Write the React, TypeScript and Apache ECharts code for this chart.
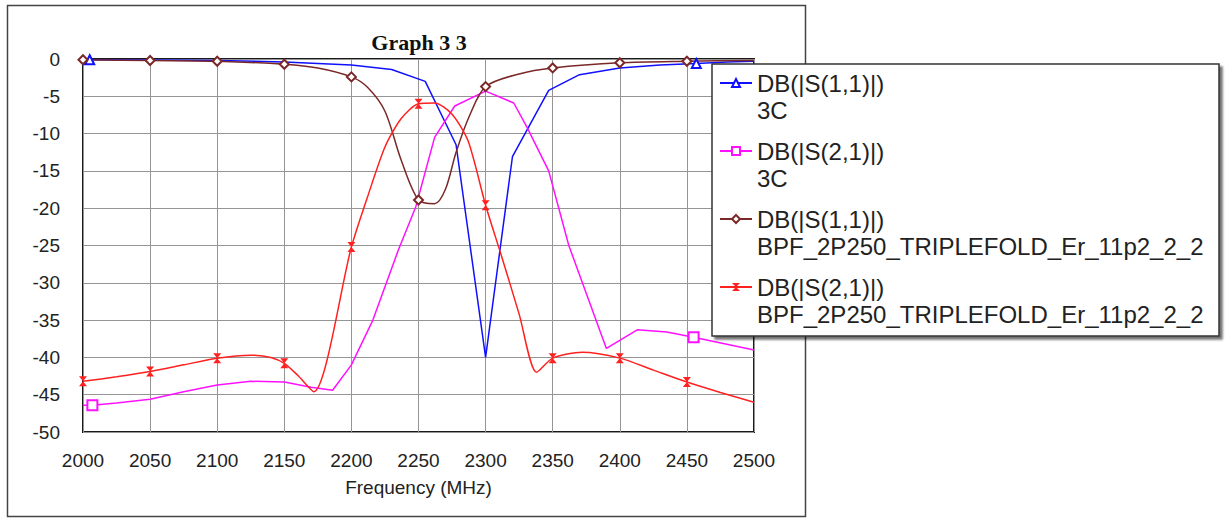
import React, { useEffect, useRef } from "react";
import * as echarts from "echarts";

const titleText = "Graph 3 3";
const xAxisName = "Frequency (MHz)";
const seriesNames = [
  "DB(|S(1,1)|)\n3C",
  "DB(|S(2,1)|)\n3C",
  "DB(|S(1,1)|)\nBPF_2P250_TRIPLEFOLD_Er_11p2_2_2",
  "DB(|S(2,1)|)\nBPF_2P250_TRIPLEFOLD_Er_11p2_2_2",
];

// S11 of "3C" (blue)
const s11aFreq = [2000, 2005, 2050, 2100, 2150, 2200, 2230, 2255, 2278, 2300, 2320, 2347, 2370, 2400, 2430, 2457, 2480, 2500];
const s11aDb = [-0.1, -0.1, -0.15, -0.2, -0.4, -0.8, -1.4, -3.0, -11.5, -40.0, -13.1, -4.2, -2.1, -1.2, -0.8, -0.6, -0.4, -0.3];
const s11aMarks = [2005, 2457];

// S21 of "3C" (magenta)
const s21aFreq = [2000, 2007, 2025, 2050, 2075, 2100, 2125, 2150, 2170, 2186, 2200, 2216, 2235, 2248, 2262, 2277, 2300, 2321, 2331, 2347, 2362, 2376, 2390, 2413, 2435, 2455, 2500];
const s21aDb = [-46.4, -46.4, -46.1, -45.6, -44.6, -43.7, -43.2, -43.3, -44.0, -44.4, -41.0, -35.0, -25.6, -19.8, -10.5, -6.3, -4.3, -5.9, -9.2, -15.0, -25.0, -31.9, -38.8, -36.3, -36.6, -37.3, -39.0];
const s21aMarks = [2007, 2455];

// S11 of BPF (brown)
const s11bFreq = [2000, 2050, 2100, 2150, 2175, 2200, 2212, 2225, 2237, 2250, 2262, 2270, 2278, 2288, 2300, 2325, 2350, 2400, 2450, 2500];
const s11bDb = [-0.1, -0.2, -0.3, -0.7, -1.2, -2.4, -3.8, -7.0, -13.5, -18.9, -19.4, -17.5, -12.5, -7.6, -3.7, -2.0, -1.2, -0.5, -0.3, -0.2];
const s11bMarks = [2000, 2050, 2100, 2150, 2200, 2250, 2300, 2350, 2400, 2450];

// S21 of BPF (red)
const s21bFreq = [2000, 2025, 2050, 2075, 2100, 2125, 2140, 2150, 2160, 2172, 2200, 2212, 2225, 2237, 2250, 2262, 2275, 2287, 2300, 2312, 2325, 2338, 2350, 2372, 2400, 2425, 2450, 2475, 2500];
const s21bDb = [-43.2, -42.6, -41.9, -41.0, -40.1, -39.7, -40.0, -40.8, -42.4, -44.6, -25.2, -18.5, -11.8, -8.0, -6.0, -5.9, -7.4, -11.0, -19.6, -26.5, -34.2, -42.0, -40.1, -39.3, -40.1, -41.7, -43.3, -44.7, -46.0];
const s21bMarks = [2000, 2050, 2100, 2150, 2200, 2250, 2300, 2350, 2400, 2450];

const xTicks = { min: 2000, max: 2500, step: 50 };
const yTicks = { min: -50, max: 0, step: 5 };

function toData(freq: number[], db: number[], marks: number[]) {
  return freq.map((f, i) =>
    marks.indexOf(f) >= 0 ? { value: [f, db[i]] } : { value: [f, db[i]], symbol: "none" }
  );
}

const hourglass = "path://M0,0L10,0L5,5L10,10L0,10L5,5Z";

export default function App() {
  const ref = useRef<HTMLDivElement>(null);
  useEffect(() => {
    if (!ref.current) return;
    const chart = echarts.init(ref.current, undefined, { renderer: "svg" });
    const font = "'Liberation Sans', Arial, sans-serif";
    const option: any = {
      animation: false,
      backgroundColor: "#ffffff",
      title: {
        text: titleText,
        left: 419,
        top: 31,
        padding: 0,
        textAlign: "center",
        textStyle: { fontFamily: "'Liberation Serif', 'Times New Roman', serif", fontWeight: "bold", fontSize: 22, color: "#111" },
      },
      grid: { left: 83, top: 59, right: 472, bottom: 87, show: true, borderColor: "#1a1a1a", borderWidth: 2, backgroundColor: "#fff" },
      xAxis: {
        type: "value",
        min: xTicks.min,
        max: xTicks.max,
        interval: xTicks.step,
        name: xAxisName,
        nameLocation: "middle",
        nameGap: 46,
        nameTextStyle: { fontFamily: font, fontSize: 19, color: "#222" },
        axisLine: { show: false },
        axisTick: { show: false },
        axisLabel: { fontFamily: font, fontSize: 19, color: "#222", margin: 19, formatter: (v: number) => String(v) },
        splitLine: { show: true, lineStyle: { color: "#959595", width: 1 } },
      },
      yAxis: {
        type: "value",
        min: yTicks.min,
        max: yTicks.max,
        interval: yTicks.step,
        axisLine: { show: false },
        axisTick: { show: false },
        axisLabel: { fontFamily: font, fontSize: 19, color: "#222", margin: 23 },
        splitLine: { show: true, lineStyle: { color: "#959595", width: 1 } },
      },
      legend: {
        orient: "vertical",
        left: 719,
        top: 42.5,
        padding: 0,
        itemWidth: 32,
        itemHeight: 10,
        itemGap: -13,
        selectedMode: false,
        z: 10,
        formatter: (name: string) => " \n" + name,
        textStyle: { fontFamily: font, fontSize: 24, lineHeight: 27, color: "#222" },
        data: seriesNames,
      },
      graphic: [
        {
          type: "rect",
          z: 0,
          shape: { x: 7.5, y: 5.5, width: 798, height: 511 },
          style: { fill: "none", stroke: "#444", lineWidth: 1.5 },
          silent: true,
        },
        {
          type: "rect",
          z: 8,
          shape: { x: 712, y: 64, width: 507, height: 272 },
          style: {
            fill: "#fff",
            stroke: "#333",
            lineWidth: 1.5,
            shadowColor: "rgba(0,0,0,0.55)",
            shadowOffsetX: 3,
            shadowOffsetY: 3,
            shadowBlur: 2,
          },
          silent: true,
        },
      ],
      series: [
        {
          name: seriesNames[0],
          type: "line",
          data: toData(s11aFreq, s11aDb, s11aMarks),
          symbol: "emptyTriangle",
          symbolSize: 9,
          showAllSymbol: true,
          lineStyle: { color: "#1010ff", width: 1.5 },
          itemStyle: { color: "#1010ff" },
          z: 3,
        },
        {
          name: seriesNames[1],
          type: "line",
          data: toData(s21aFreq, s21aDb, s21aMarks),
          symbol: "emptyRect",
          symbolSize: 10,
          showAllSymbol: true,
          lineStyle: { color: "#ff10ff", width: 1.5 },
          itemStyle: { color: "#ff10ff" },
          z: 3,
        },
        {
          name: seriesNames[2],
          type: "line",
          data: toData(s11bFreq, s11bDb, s11bMarks),
          symbol: "emptyDiamond",
          symbolSize: 9,
          showAllSymbol: true,
          smooth: 0.3,
          lineStyle: { color: "#7a2828", width: 1.5 },
          itemStyle: { color: "#7a2828" },
          z: 3,
        },
        {
          name: seriesNames[3],
          type: "line",
          data: toData(s21bFreq, s21bDb, s21bMarks),
          symbol: hourglass,
          symbolSize: [8, 10],
          showAllSymbol: true,
          smooth: 0.25,
          lineStyle: { color: "#ff2020", width: 1.5 },
          itemStyle: { color: "#ff2020" },
          z: 3,
        },
      ],
    };
    chart.setOption(option);
    return () => chart.dispose();
  }, []);
  return <div ref={ref} style={{ position: "absolute", left: 0, top: 0, width: 1226, height: 519 }} />;
}
